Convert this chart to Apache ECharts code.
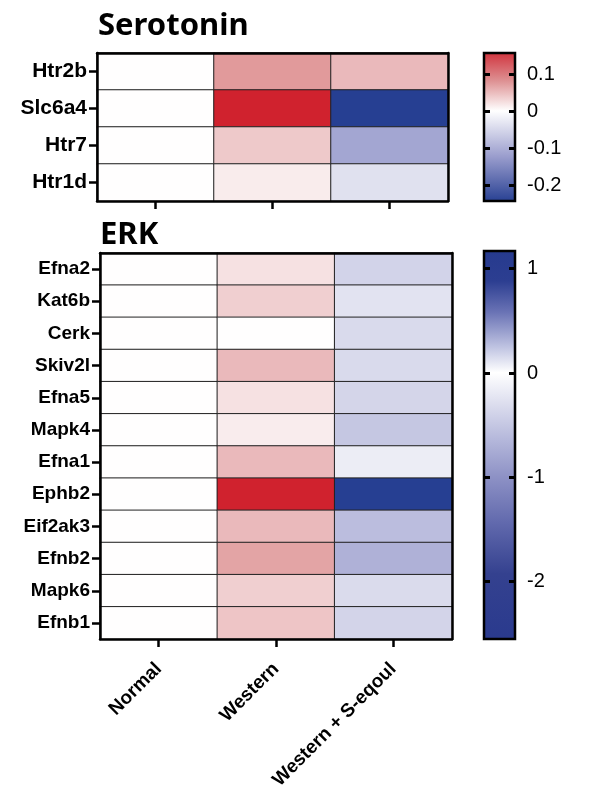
<!DOCTYPE html>
<html>
<head>
<meta charset="utf-8">
<script src="https://cdn.jsdelivr.net/npm/echarts@6/dist/echarts.min.js"></script>
<style>
html,body{margin:0;padding:0;background:#fff;}
#chart{width:591px;height:793px;}
</style>
</head>
<body>
<div id="chart"></div>
<script>
// ---- data ----
var groups = ['Normal', 'Western', 'Western + S-eqoul'];
var seroGenes = ['Htr2b', 'Slc6a4', 'Htr7', 'Htr1d'];
var seroNormal = [0, 0, 0, 0];
var seroWestern = [0.073, 0.157, 0.039, 0.014];
var seroEquol = [0.050, -0.243, -0.110, -0.037];
var seroRange = [-0.243, 0.157];
var seroTicks = [-0.2, -0.1, 0, 0.1];

var erkGenes = ['Efna2', 'Kat6b', 'Cerk', 'Skiv2l', 'Efna5', 'Mapk4', 'Efna1', 'Ephb2', 'Eif2ak3', 'Efnb2', 'Mapk6', 'Efnb1'];
var erkNormal = [0, 0, 0, 0, 0, 0, 0, 0, 0, 0, 0, 0];
var erkWestern = [0.16, 0.26, 0.0, 0.375, 0.16, 0.10, 0.375, 1.17, 0.375, 0.49, 0.26, 0.31];
var erkEquol = [-0.57, -0.36, -0.48, -0.48, -0.54, -0.73, -0.24, -2.55, -0.86, -1.02, -0.47, -0.56];
var erkRange = [-2.55, 1.17];
var erkTicks = [-2, -1, 0, 1];

// ---- helpers ----
function cells(cols) {
  var out = [];
  cols.forEach(function (col, ci) {
    col.forEach(function (v, ri) { out.push([ci, ri, v]); });
  });
  return out;
}
var RED = [208, 34, 46], RED_MID = [222, 146, 148];
var BLUE = [38, 63, 146], BLUE_MID = [154, 157, 205];
var WHITE = [255, 255, 255];
function mixArr(a, b, t) { return a.map(function (x, i) { return Math.round(x + (b[i] - x) * t); }); }
function ramp(mid, end, t) {
  return t <= 0.5 ? mixArr(WHITE, mid, t / 0.5) : mixArr(mid, end, (t - 0.5) / 0.5);
}
function rgb(a) { return 'rgb(' + a.join(',') + ')'; }
function divergingColors(min, max) {
  var n = 160, arr = [];
  for (var i = 0; i <= n; i++) {
    var v = min + (max - min) * i / n;
    arr.push(rgb(v < 0 ? ramp(BLUE_MID, BLUE, v / min) : ramp(RED_MID, RED, v / max)));
  }
  return arr;
}
function fmt(v) { return v === 0 ? '0' : String(v); }

var LBL = 'Liberation Sans, Arial, sans-serif';
var frameLine = { show: true, lineStyle: { color: '#000', width: 2.5 } };

function catX(grid, pos, withLabels) {
  return {
    gridIndex: grid, type: 'category', data: groups, position: pos, z: 10,
    axisLine: frameLine,
    axisTick: { show: pos === 'bottom', interval: 0, alignWithLabel: true, length: 8, lineStyle: { color: '#000', width: 2.5 } },
    axisLabel: withLabels ? { show: true, rotate: 45, margin: 27, fontFamily: LBL, fontWeight: 'bold', fontSize: 19, color: '#000', interval: 0 } : { show: false, interval: 0 },
    splitLine: { show: false }
  };
}
function catY(grid, pos, names, fs) {
  return {
    gridIndex: grid, type: 'category', data: names, position: pos, inverse: true, z: 10,
    axisLine: frameLine,
    axisTick: { show: pos === 'left', interval: 0, alignWithLabel: true, length: 8, lineStyle: { color: '#000', width: 2.5 } },
    axisLabel: pos === 'left' ? { show: true, margin: 10, fontFamily: LBL, fontWeight: 'bold', fontSize: fs, color: '#000', interval: 0 } : { show: false },
    splitLine: { show: false }
  };
}
function barY(grid, pos, range, ticks, fs) {
  return {
    gridIndex: grid, type: 'value', position: pos, min: range[0], max: range[1],
    axisLine: { show: false },
    axisTick: { show: true, inside: true, length: 6, customValues: ticks, lineStyle: { color: '#000', width: 3 } },
    axisLabel: pos === 'right' ? { show: true, customValues: ticks, margin: 12, fontFamily: LBL, fontSize: fs, color: '#000', formatter: fmt } : { show: false },
    splitLine: { show: false }
  };
}
function grad(stops) {
  return { type: 'linear', x: 0, y: 0, x2: 0, y2: 1, colorStops: stops.map(function (s) { return { offset: s[0], color: s[1] }; }) };
}

var seroZero = seroRange[1] / (seroRange[1] - seroRange[0]);
var erkZero = erkRange[1] / (erkRange[1] - erkRange[0]);

var option = {
  backgroundColor: '#fff',
  animation: false,
  title: [
    { text: 'Serotonin', left: 93, top: 6, textStyle: { fontFamily: 'Noto Sans', fontWeight: 'bold', fontSize: 31, color: '#000' } },
    { text: 'ERK', left: 95, top: 215, textStyle: { fontFamily: 'Noto Sans', fontWeight: 'bold', fontSize: 31, color: '#000' } }
  ],
  grid: [
    { left: 97, top: 53, width: 351, height: 148 },
    { left: 100, top: 253, width: 352, height: 386 },
    { left: 484, top: 53, width: 31, height: 148, show: true, borderColor: '#000', borderWidth: 2.5,
      backgroundColor: grad([[0, '#d0323c'], [seroZero / 2, rgb(RED_MID)], [seroZero, '#ffffff'],
        [seroZero + (1 - seroZero) / 2, rgb(BLUE_MID)], [1, '#263f92']]) },
    { left: 484, top: 251, width: 31, height: 388, show: true, borderColor: '#000', borderWidth: 2.5,
      backgroundColor: grad([[0, '#263a8e'], [0.08, '#2c3e91'], [0.16, '#6a73b5'], [0.25, '#c0c4e2'], [erkZero, '#ffffff'],
        [0.49, '#b3b6da'], [0.583, '#8d91c5'], [0.70, '#6169ad'], [0.83, '#34418f'], [1, '#2a3a8e']]) }
  ],
  xAxis: [
    catX(0, 'bottom', false), catX(0, 'top', false),
    catX(1, 'bottom', true), catX(1, 'top', false),
    { gridIndex: 2, type: 'value', show: false, min: 0, max: 1 },
    { gridIndex: 3, type: 'value', show: false, min: 0, max: 1 }
  ],
  yAxis: [
    catY(0, 'left', seroGenes, 21), catY(0, 'right', seroGenes, 21),
    catY(1, 'left', erkGenes, 19), catY(1, 'right', erkGenes, 19),
    barY(2, 'left', seroRange, seroTicks, 20), barY(2, 'right', seroRange, seroTicks, 20),
    barY(3, 'left', erkRange, erkTicks, 20), barY(3, 'right', erkRange, erkTicks, 20)
  ],
  visualMap: [
    { type: 'continuous', show: false, seriesIndex: 0, dimension: 2, min: seroRange[0], max: seroRange[1], inRange: { color: divergingColors(seroRange[0], seroRange[1]) } },
    { type: 'continuous', show: false, seriesIndex: 1, dimension: 2, min: erkRange[0], max: erkRange[1], inRange: { color: divergingColors(erkRange[0], erkRange[1]) } }
  ],
  series: [
    { type: 'heatmap', xAxisIndex: 0, yAxisIndex: 0, data: cells([seroNormal, seroWestern, seroEquol]),
      itemStyle: { borderColor: '#222', borderWidth: 1 }, emphasis: { disabled: true } },
    { type: 'heatmap', xAxisIndex: 2, yAxisIndex: 2, data: cells([erkNormal, erkWestern, erkEquol]),
      itemStyle: { borderColor: '#222', borderWidth: 1 }, emphasis: { disabled: true } },
    { type: 'scatter', xAxisIndex: 4, yAxisIndex: 4, data: [] },
    { type: 'scatter', xAxisIndex: 5, yAxisIndex: 6, data: [] }
  ]
};
var chart = echarts.init(document.getElementById('chart'), null, { renderer: 'canvas' });
chart.setOption(option);
</script>
</body>
</html>
